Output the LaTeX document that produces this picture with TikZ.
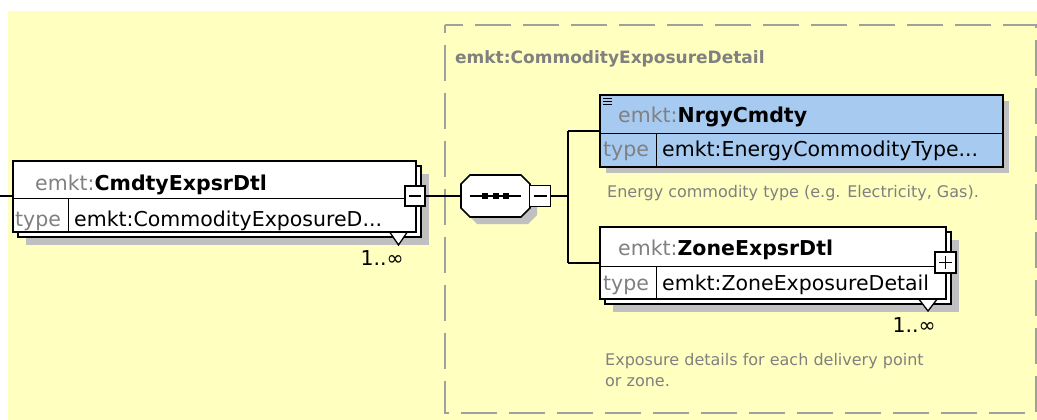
\documentclass[tikz,border=0pt]{standalone}
\usepackage{fontspec}
\setmainfont{DejaVu Sans}
\usepackage{tikz}
\usetikzlibrary{positioning}
\definecolor{FondoAmarillo}{RGB}{255,255,192}
\definecolor{GrisTexto}{RGB}{128,128,128}
\definecolor{GrisSombra}{RGB}{192,192,192}
\definecolor{GrisMarco}{RGB}{160,160,160}
\definecolor{AzulElem}{RGB}{166,202,240}

\begin{document}
\begin{tikzpicture}[x=1pt,y=-1pt,
  caja/.style={draw=black,line width=1.6pt,fill=white},
  conector/.style={line width=1.5pt},
  nombre/.style={anchor=base west,inner sep=0pt,font=\fontsize{20.5}{24}\selectfont},
  tipo/.style={nombre,text=GrisTexto},
  nota/.style={anchor=base west,inner sep=0pt,text=GrisTexto,font=\fontsize{16}{21}\selectfont},
  signo/.style={draw=black,fill=white,line width=1.4pt,minimum size=20pt,inner sep=0pt},
  menos/.style={signo,path picture={
    \draw[line width=1.4pt] ([xshift=4pt]path picture bounding box.west) -- ([xshift=-4pt]path picture bounding box.east);}},
  mas/.style={signo,path picture={
    \draw[line width=1.4pt] ([xshift=4pt]path picture bounding box.west) -- ([xshift=-4pt]path picture bounding box.east);
    \draw[line width=1.4pt] ([yshift=4pt]path picture bounding box.south) -- ([yshift=-4pt]path picture bounding box.north);}},
  multip/.style={draw=black,line width=1.3pt,fill=white}]
  \useasboundingbox (0,0) rectangle (1037,420);
  \fill[FondoAmarillo] (8,11) rectangle (1037,420);

  % Tipo complejo (marco punteado)
  \draw[GrisMarco,line width=1.8pt,dash pattern=on 36pt off 12pt,dash phase=18pt]
    (445,25) -- (1036,25) -- (1036,413) -- (445,413) -- cycle;
  \node[anchor=base west,inner sep=0pt,text=GrisTexto,font=\bfseries\fontsize{17}{20}\selectfont]
    (titulo) at (455,64) {emkt:CommodityExposureDetail};

  % Elemento CmdtyExpsrDtl
  \fill[GrisSombra] (26,174) rectangle (429,245);
  \draw[caja] (18,166) rectangle (421,237);
  \draw[multip] (389,231) -- (408,231) -- (398.5,245) -- cycle;
  \node[caja,minimum width=403pt,minimum height=71pt,anchor=north west] (cmdty) at (12,160) {};
  \draw[line width=1pt] (12,198) -- (415,198);
  \draw[line width=1pt] (68,198) -- (68,231);
  \node[nombre] (cmdtyNombre) at (35,190) {\textcolor{GrisTexto}{emkt:}\textbf{CmdtyExpsrDtl}};
  \node[tipo] (cmdtyEtiqueta) at (15,226) {type};
  \node[nombre] (cmdtyTipo) at (74,226) {emkt:CommodityExposureD...};
  \node[nombre,anchor=base east] (cmdtyCard) at (404,265) {1..∞};
  \node[menos] (cmdtyMenos) at (415,196) {};
  \coordinate (entrada) at (0,196);
  \draw[conector] (entrada) -- (cmdty.west |- entrada);

  % Compositor de secuencia
  \foreach \d/\relleno/\borde in {7/GrisSombra/none,0/white/black}
    \filldraw[fill=\relleno,draw=\borde,line width=1.6pt,shift={(495.5+\d,196+\d)}]
      (-25.5,-21) -- (25.5,-21) -- (34.5,-12) -- (34.5,12) -- (25.5,21)
      -- (-25.5,21) -- (-34.5,12) -- (-34.5,-12) -- cycle;
  \node[minimum width=69pt,minimum height=42pt,inner sep=0pt] (seq) at (495.5,196) {};
  \draw[conector] ([xshift=9pt]seq.west) -- ([xshift=-9pt]seq.east);
  \foreach \dx in {-10.5,0,10.5}
    \fill ([xshift=\dx pt]seq.center) +(-3,-3) rectangle +(3,3);
  \node[menos,minimum size=21pt] (seqMenos) at (540,196) {};
  \draw[conector] (cmdtyMenos.east) -- (seq.west);
  \coordinate (ramal) at (568,196);
  \draw[conector] (seqMenos.east) -- (ramal);

  % Elemento NrgyCmdty
  \fill[GrisSombra] (606,101) rectangle (1009,173);
  \node[caja,fill=AzulElem,minimum width=403pt,minimum height=72pt,anchor=north west] (nrgy) at (599,94) {};
  \draw[line width=1pt] (599,133) -- (1002,133);
  \draw[line width=1pt] (656,133) -- (656,166);
  \foreach \yy in {98.5,101.5,104.5}
    \draw[line width=1.1pt] (603,\yy) -- (612,\yy);
  \node[nombre] (nrgyNombre) at (618,122) {\textcolor{GrisTexto}{emkt:}\textbf{NrgyCmdty}};
  \node[tipo] (nrgyEtiqueta) at (603,157) {type};
  \node[nombre] (nrgyTipo) at (662,157) {emkt:EnergyCommodityType...};
  \node[nota] (nrgyNota) at (607,197) {Energy commodity type (e.g. Electricity, Gas).};

  % Elemento ZoneExpsrDtl
  \fill[GrisSombra] (613,240) rectangle (959,312);
  \draw[caja] (605,232) rectangle (951,304);
  \draw[multip] (918,298) -- (938,298) -- (928,311) -- cycle;
  \node[caja,minimum width=346pt,minimum height=72pt,anchor=north west] (zone) at (599,226) {};
  \draw[line width=1pt] (599,266) -- (945,266);
  \draw[line width=1pt] (656,266) -- (656,298);
  \node[nombre] (zoneNombre) at (618,255) {\textcolor{GrisTexto}{emkt:}\textbf{ZoneExpsrDtl}};
  \node[tipo] (zoneEtiqueta) at (603,290) {type};
  \node[nombre] (zoneTipo) at (662,290) {emkt:ZoneExposureDetail};
  \node[mas,minimum size=21pt] (zoneMas) at (945.5,262.5) {};
  \node[nombre,anchor=base east] (zoneCard) at (936,332) {1..∞};
  \node[nota] (zoneNota) at (605,365) {Exposure details for each delivery point};
  \node[nota] (zoneNota2) at (605,386) {or zone.};

  % Ramas de la secuencia
  \draw[conector] (ramal |- nrgy.west) -- (ramal |- zone.west);
  \draw[conector] (ramal |- nrgy.west) -- (nrgy.west);
  \draw[conector] (ramal |- zone.west) -- (zone.west);
\end{tikzpicture}
\end{document}
